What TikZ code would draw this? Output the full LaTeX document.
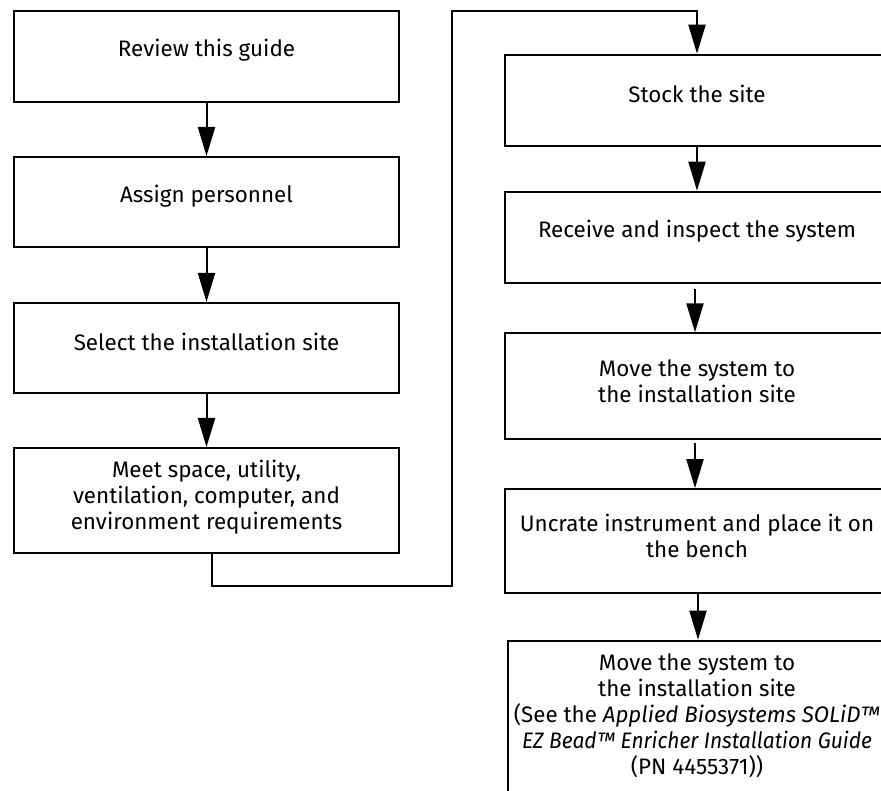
\documentclass[tikz,border=0pt]{standalone}
\usepackage{fontspec}
\setmainfont{Fira Sans}
\usetikzlibrary{arrows.meta}
\begin{document}
\begin{tikzpicture}[x=1pt,y=-1pt,
  box/.style={draw,line width=2pt,minimum width=385pt,inner sep=0pt},
  txt/.style={align=center,font=\fontsize{22.4}{26}\selectfont,inner sep=0pt},
  arr/.style={line width=2pt,-{Triangle[width=17pt,length=29pt]}},
  line join=miter]
\useasboundingbox (0,0) rectangle (881,791);
\clip (0,0) rectangle (881,791);
% left column
\node[box,minimum height=91pt] (b1) at (206.5,56.5) {};
\node[box,minimum height=90pt] (b2) at (206.5,202) {};
\node[box,minimum height=90pt] (b3) at (206.5,348) {};
\node[box,minimum height=105pt] (b4) at (206.5,500.5) {};
% right column
\node[box,minimum height=91pt] (s1) at (697,100.2) {};
\node[box,minimum height=91pt] (s2) at (697,237.2) {};
\node[box,minimum height=106pt] (s3) at (697,386.3) {};
\node[box,minimum height=104pt] (s4) at (697,541.2) {};
\node[box,minimum height=170pt] (s5) at (700,725.7) {};
% texts
\node[txt] (t1) at ([yshift=6pt]b1.center) {Review this guide};
\node[txt] (t2) at ([yshift=6pt]b2.center) {Assign personnel};
\node[txt] (t3) at ([yshift=6pt]b3.center) {Select the installation site};
\node[txt] (t4) at ([yshift=3pt]b4.center) {Meet space, utility,\\ventilation, computer, and\\environment requirements};
\node[txt] (u1) at ([yshift=6pt]s1.center) {Stock the site};
\node[txt] (u2) at ([yshift=6pt]s2.center) {Receive and inspect the system};
\node[txt] (u3) at ([yshift=5pt]s3.center) {Move the system to\\the installation site};
\node[txt] (u4) at ([yshift=5pt]s4.center) {Uncrate instrument and place it on\\the bench};
\node[txt] (u5) at (697,716) {Move the system to\\the installation site\\\resizebox{366pt}{\height}{(See the \textit{Applied Biosystems SOLiD™}}\\\resizebox{350pt}{\height}{\textit{EZ Bead™ Enricher Installation Guide}}\\(PN 4455371))};
% connectors
\coordinate (ta) at (452,585.7);
\coordinate (tb) at (452,11);
\draw[arr] (b1.south) -- (b2.north);
\draw[arr] (b2.south) -- (b3.north);
\draw[arr] (b3.south) -- (b4.north);
\draw[arr] ([xshift=5.5pt]b4.south) |- (ta) -- (tb) -| (s1.north);
\draw[arr] (s1.south) -- (s2.north);
\draw[arr,shorten <=5pt] ([xshift=-2pt]s2.south) -- ([xshift=-2pt]s3.north);
\draw[arr,shorten <=3pt] ([xshift=-2pt]s3.south) -- ([xshift=-2pt]s4.north);
\draw[arr] ([xshift=1pt]s4.south) -- ([xshift=-2pt]s5.north);
\end{tikzpicture}
\end{document}
